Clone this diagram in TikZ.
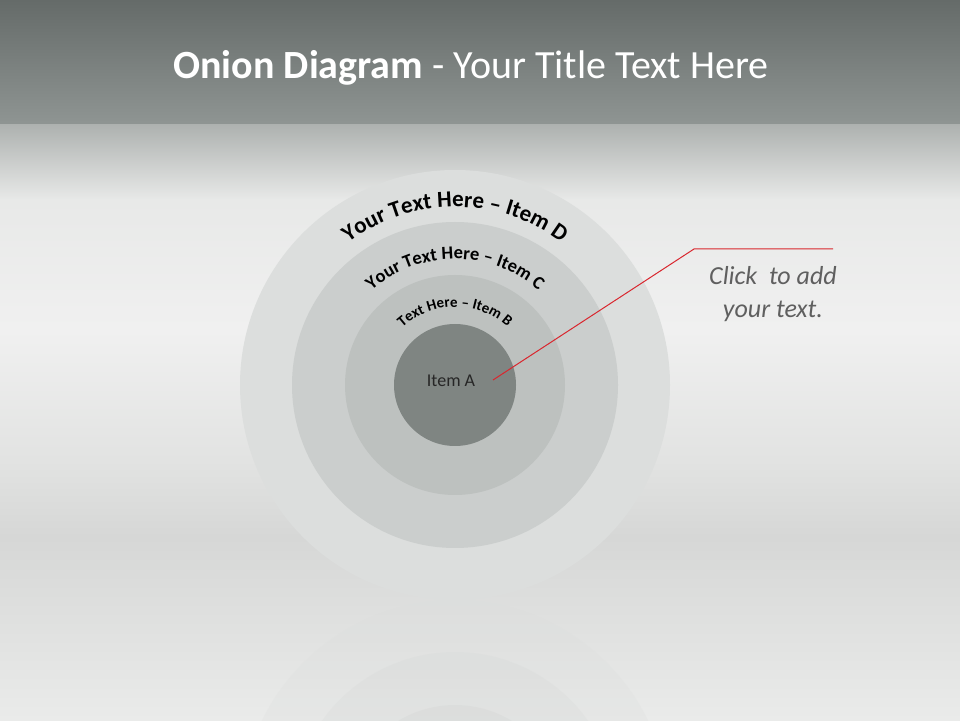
\documentclass[tikz,border=0pt]{standalone}
\usepackage{fontspec}
\setmainfont{Carlito}
\usetikzlibrary{decorations.text}
\definecolor{bandtop}{HTML}{656B69}
\definecolor{bandbot}{HTML}{8F9593}
\definecolor{haze}{HTML}{AEB2B0}
\definecolor{wall}{HTML}{E8E9E8}
\definecolor{wallmid}{HTML}{F0F0F0}
\definecolor{wallbot}{HTML}{E2E3E2}
\definecolor{horizon}{HTML}{D6D7D6}
\definecolor{floor}{HTML}{EAEBEA}
\definecolor{ringD}{HTML}{DCDEDD}
\definecolor{ringC}{HTML}{CBCECD}
\definecolor{ringB}{HTML}{BDC1BF}
\definecolor{ringA}{HTML}{7F8582}
\definecolor{callred}{HTML}{D9262E}
\definecolor{calltext}{HTML}{5F5F5F}
\tikzset{
  ring/.style={circle,inner sep=0pt,minimum size=#1},
  arctext/.style={decorate,decoration={text along path,text align=center,text={#1}}}
}
\begin{document}
\begin{tikzpicture}[x=1pt,y=1pt]
\useasboundingbox (0,0) rectangle (960,720);
% backdrop
\shade[top color=bandtop,bottom color=bandbot] (0,595) rectangle (960,720);
\shade[top color=haze,bottom color=wall] (0,520) rectangle (960,595);
\shade[top color=wall,bottom color=wallmid] (0,390) rectangle (960,520);
\shade[top color=wallmid,bottom color=wallbot] (0,260) rectangle (960,390);
\shade[top color=wallbot,bottom color=horizon] (0,183) rectangle (960,260);
\shade[top color=horizon,bottom color=floor] (0,0) rectangle (960,183);
% title
\node[text=white,font=\fontsize{40}{46}\selectfont] (title) at (471,652)
  {\textbf{Onion Diagram} - Your Title Text Here};
% reflection
\begin{scope}
  \clip (0,0) rectangle (960,120);
  \fill[ringD,opacity=.25] (455,-95) circle (215);
  \fill[ringC,opacity=.15] (455,-95) circle (163);
  \fill[ringB,opacity=.12] (455,-95) circle (110);
\end{scope}
% rings
\node[ring=430pt,fill=ringD] (d) at (455,335) {};
\node[ring=326pt,fill=ringC] (c) at (d.center) {};
\node[ring=220pt,fill=ringB] (b) at (d.center) {};
\node[ring=122pt,fill=ringA] (a) at (d.center) {};
\node[font=\fontsize{18}{21}\selectfont,text=black!85] (itemA) at (451,339) {Item A};
% curved labels
\path[arctext={|\bfseries\fontsize{23}{27}\selectfont|Your Text Here – Item D}]
  (d.center) ++(140:178) arc (140:40:178);
\path[arctext={|\bfseries\fontsize{18.5}{22}\selectfont|Your Text Here – Item C}]
  (d.center) ++(145:126) arc (145:35:126);
\path[arctext={|\bfseries\fontsize{15}{18}\selectfont|Text Here – Item B}]
  (d.center) ++(150:78) arc (150:30:78);
% callout
\coordinate (tip) at (493,340);
\coordinate (elbow) at (694,471);
\coordinate (tail) at (833,471);
\draw[callred,line width=1pt] (tip) -- (elbow) -- (tail);
\node[text=calltext,font=\itshape\fontsize{26}{33}\selectfont,align=center] (note) at (773,426)
  {Click\ \ to add\\your text.};
\end{tikzpicture}
\end{document}
